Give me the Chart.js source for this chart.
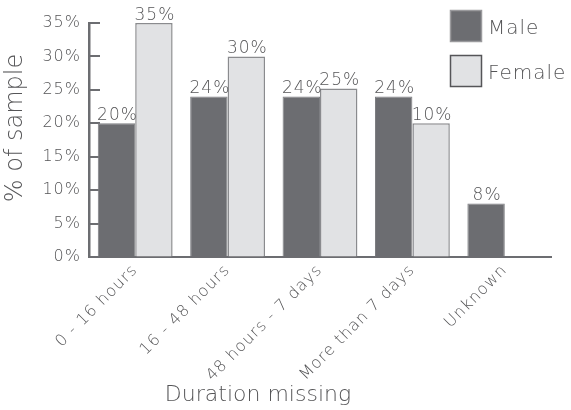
<!DOCTYPE html>
<html>
<head>
<meta charset="utf-8">
<script src="https://cdn.jsdelivr.net/npm/chart.js@4.4.1/dist/chart.umd.min.js"></script>
<style>
  html, body { margin: 0; padding: 0; background: #ffffff; }
  #wrap { width: 571px; height: 410px; position: relative; }
</style>
</head>
<body>
<div id="wrap"><canvas id="c" width="571" height="410"></canvas></div>
<script>
// ---- data ----
const categories = ['0 - 16 hours', '16 - 48 hours', '48 hours - 7 days', 'More than 7 days', 'Unknown'];
const maleValues = [20, 24, 24, 24, 8];
const femaleValues = [35, 30, 25.2, 20, 0];
const maleLabels = ['20%', '24%', '24%', '24%', '8%'];
const femaleLabels = ['35%', '30%', '25%', '10%', ''];
const yTickValues = [0, 5, 10, 15, 20, 25, 30, 35];
const seriesNames = ['Male', 'Female'];
const xTitle = 'Duration missing';
const yTitle = '% of sample';

// ---- styles ----
const FONT = "'DejaVu Sans', 'Lato', sans-serif";
const WEIGHT = '200';
const TEXT = '#555557';
const AXIS = '#6c6d71';

const spacingPlugin = {
  id: 'spacing',
  beforeLayout(chart) { chart.ctx.letterSpacing = '1px'; },
  beforeDraw(chart) { chart.ctx.letterSpacing = '1px'; }
};

const valueLabelsPlugin = {
  id: 'valueLabels',
  afterDatasetsDraw(chart) {
    const ctx = chart.ctx;
    const labelSets = [maleLabels, femaleLabels];
    ctx.save();
    ctx.letterSpacing = '1px';
    ctx.font = WEIGHT + ' 17px ' + FONT;
    ctx.fillStyle = TEXT;
    ctx.textAlign = 'center';
    ctx.textBaseline = 'bottom';
    chart.data.datasets.forEach((ds, di) => {
      const meta = chart.getDatasetMeta(di);
      meta.data.forEach((el, i) => {
        const t = labelSets[di][i];
        if (t) ctx.fillText(t, el.x + 1, el.y + 1);
      });
    });
    ctx.restore();
  }
};

const innerTicksPlugin = {
  id: 'innerTicks',
  beforeDatasetsDraw(chart) {
    const ctx = chart.ctx;
    const y = chart.scales.y;
    const left = chart.chartArea.left;
    ctx.save();
    ctx.strokeStyle = AXIS;
    ctx.lineWidth = 2;
    y.ticks.forEach(t => {
      const py = Math.round(y.getPixelForValue(t.value));
      ctx.beginPath();
      ctx.moveTo(left, py);
      ctx.lineTo(left + 11, py);
      ctx.stroke();
    });
    ctx.restore();
  }
};

const titlesLegendPlugin = {
  id: 'titlesLegend',
  afterDraw(chart) {
    const ctx = chart.ctx;
    const ca = chart.chartArea;
    ctx.save();
    ctx.fillStyle = TEXT;
    // x title
    ctx.letterSpacing = '0px';
    ctx.font = WEIGHT + ' 22px ' + FONT;
    ctx.textAlign = 'center';
    ctx.textBaseline = 'middle';
    ctx.fillText(xTitle, 258, 395);
    // y title
    ctx.save();
    ctx.translate(16, 128);
    ctx.rotate(-Math.PI / 2);
    ctx.font = WEIGHT + ' 24px ' + FONT;
    ctx.fillText(yTitle, 0, 0);
    ctx.restore();
    // legend
    const boxX = ca.right - 101;
    chart.data.datasets.forEach((ds, i) => {
      const top = 10 + i * 45;
      ctx.fillStyle = ds.backgroundColor;
      ctx.fillRect(boxX, top, 32, 32);
      ctx.strokeStyle = i === 0 ? '#9a9a9d' : '#555558';
      ctx.lineWidth = 1.5;
      ctx.strokeRect(boxX + 0.5, top + 0.5, 31, 31);
      ctx.fillStyle = TEXT;
      ctx.letterSpacing = '1px';
      ctx.font = WEIGHT + ' 20px ' + FONT;
      ctx.textAlign = 'left';
      ctx.textBaseline = 'middle';
      ctx.fillText(ds.label, boxX + 38, top + 19);
    });
    ctx.restore();
  }
};

new Chart(document.getElementById('c'), {
  type: 'bar',
  data: {
    labels: categories,
    datasets: [
      { label: seriesNames[0], data: maleValues, backgroundColor: '#6c6d71', borderColor: '#7d7e82', borderWidth: 1 },
      { label: seriesNames[1], data: femaleValues, backgroundColor: '#e1e2e4', borderColor: '#8a8b8e', borderWidth: 1.5 }
    ]
  },
  options: {
    responsive: false,
    animation: false,
    devicePixelRatio: 1,
    layout: { padding: { left: 0, right: 20, top: 23, bottom: 0 } },
    plugins: { legend: { display: false }, tooltip: { enabled: false } },
    datasets: { bar: { categoryPercentage: 0.81, barPercentage: 1 } },
    scales: {
      x: {
        offset: true,
        grid: { display: true, drawOnChartArea: false, drawTicks: false },
        border: { display: true, color: AXIS, width: 2 },
        ticks: { minRotation: 45, maxRotation: 45, padding: 4, color: TEXT, font: { family: FONT, size: 16, weight: WEIGHT } },
        afterFit(s) { s.height = 153; }
      },
      y: {
        min: 0, max: 35,
        afterBuildTicks(s) { s.ticks = yTickValues.map(v => ({ value: v })); },
        grid: { display: true, drawOnChartArea: false, drawTicks: false },
        border: { display: true, color: AXIS, width: 2.5 },
        ticks: { padding: 8, color: TEXT, font: { family: FONT, size: 16, weight: WEIGHT }, callback: v => v + '%' },
        afterFit(s) { s.width = 89; }
      }
    }
  },
  plugins: [spacingPlugin, innerTicksPlugin, valueLabelsPlugin, titlesLegendPlugin]
});
</script>
</body>
</html>
